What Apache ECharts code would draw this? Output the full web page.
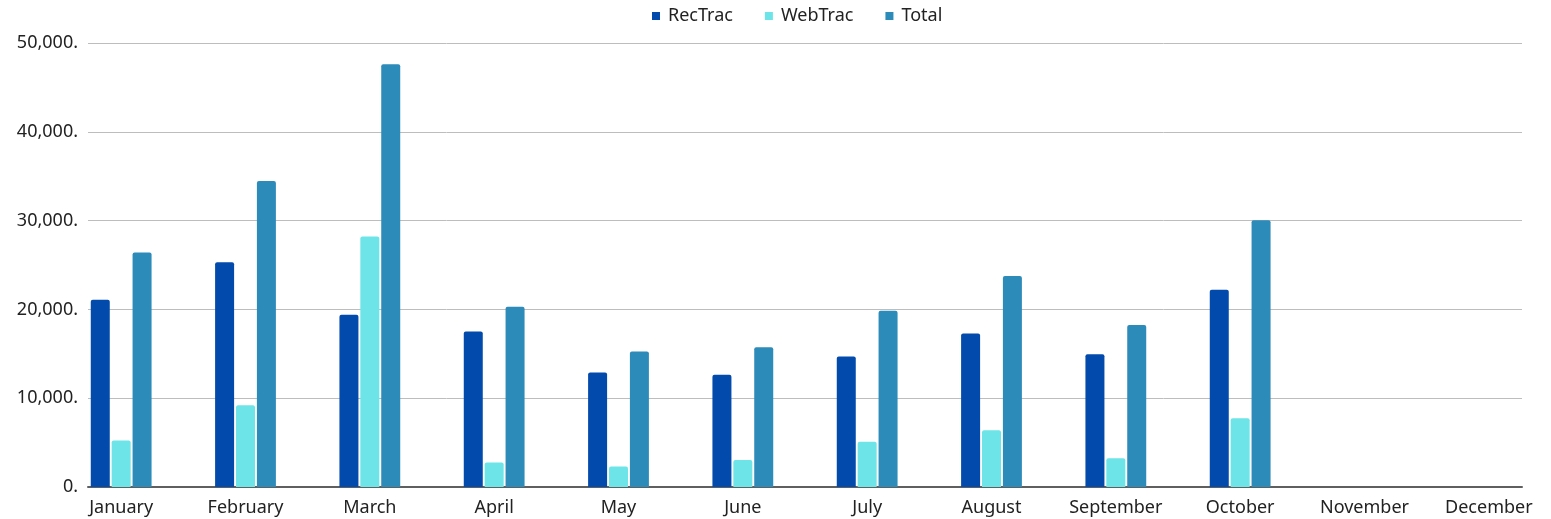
<!DOCTYPE html>
<html>
<head>
<meta charset="utf-8">
<script src="https://cdn.jsdelivr.net/npm/echarts@6/dist/echarts.min.js"></script>
<style>
  html, body { margin: 0; padding: 0; background: #fff; }
  #chart { width: 1551px; height: 519px; }
</style>
</head>
<body>
<div id="chart"></div>
<script>
const months = ['January', 'February', 'March', 'April', 'May', 'June', 'July', 'August', 'September', 'October', 'November', 'December'];
const recTrac = [21100, 25300, 19400, 17500, 12900, 12650, 14700, 17300, 14950, 22200, null, null];
const webTrac = [5250, 9200, 28200, 2750, 2300, 3050, 5100, 6400, 3250, 7750, null, null];
const total = [26400, 34450, 47600, 20300, 15250, 15750, 19850, 23750, 18250, 30050, null, null];
const yTicks = [0, 10000, 20000, 30000, 40000, 50000];

const font = 'Noto Sans';
const fmt = v => v.toLocaleString('en-US') + '.';

const chart = echarts.init(document.getElementById('chart'));

chart.setOption({
  animation: false,
  textStyle: { fontFamily: font },
  legend: {
    top: 2,
    left: 647,
    icon: 'rect',
    itemWidth: 8,
    itemHeight: 8,
    itemGap: 32,
    textStyle: { fontSize: 18, color: '#222', fontFamily: font, padding: [0, 0, 0, 3] },
    data: ['RecTrac', 'WebTrac', 'Total']
  },
  grid: [
    // grid for the value axis and gridlines
    { left: 88, right: 29, top: 43, bottom: 32 },
    // grid for the bars (category bands run past the plot edge)
    { left: 59, width: 1496, top: 43, bottom: 32 }
  ],
  xAxis: [
    {
      gridIndex: 0,
      type: 'category',
      data: months,
      axisLine: { show: true, lineStyle: { color: '#5f5f5f', width: 2 } },
      axisTick: { show: false },
      axisLabel: { show: false }
    },
    {
      gridIndex: 1,
      type: 'category',
      data: months,
      axisLine: { show: false },
      axisTick: { show: false },
      axisLabel: { fontSize: 18, color: '#222', margin: 12, fontFamily: font }
    }
  ],
  yAxis: [
    {
      gridIndex: 0,
      type: 'value',
      min: yTicks[0],
      max: yTicks[yTicks.length - 1],
      interval: 10000,
      axisLine: { show: false },
      axisTick: { show: false },
      axisLabel: { fontSize: 18, color: '#222', margin: 10, formatter: fmt, fontFamily: font },
      splitLine: { lineStyle: { color: '#bdbdbd', width: 1 } }
    },
    {
      gridIndex: 1,
      type: 'value',
      min: yTicks[0],
      max: yTicks[yTicks.length - 1],
      interval: 10000,
      show: false,
      splitLine: { show: false }
    }
  ],
  series: [
    {
      name: 'RecTrac', type: 'bar', xAxisIndex: 1, yAxisIndex: 1,
      data: recTrac, barWidth: 19, barGap: '10%',
      itemStyle: { color: '#024bac', borderRadius: [2, 2, 0, 0] }
    },
    {
      name: 'WebTrac', type: 'bar', xAxisIndex: 1, yAxisIndex: 1,
      data: webTrac, barWidth: 19, barGap: '10%',
      itemStyle: { color: '#6de5e8', borderRadius: [2, 2, 0, 0] }
    },
    {
      name: 'Total', type: 'bar', xAxisIndex: 1, yAxisIndex: 1,
      data: total, barWidth: 19, barGap: '10%',
      itemStyle: { color: '#2d8bba', borderRadius: [2, 2, 0, 0] }
    }
  ]
});
</script>
</body>
</html>
